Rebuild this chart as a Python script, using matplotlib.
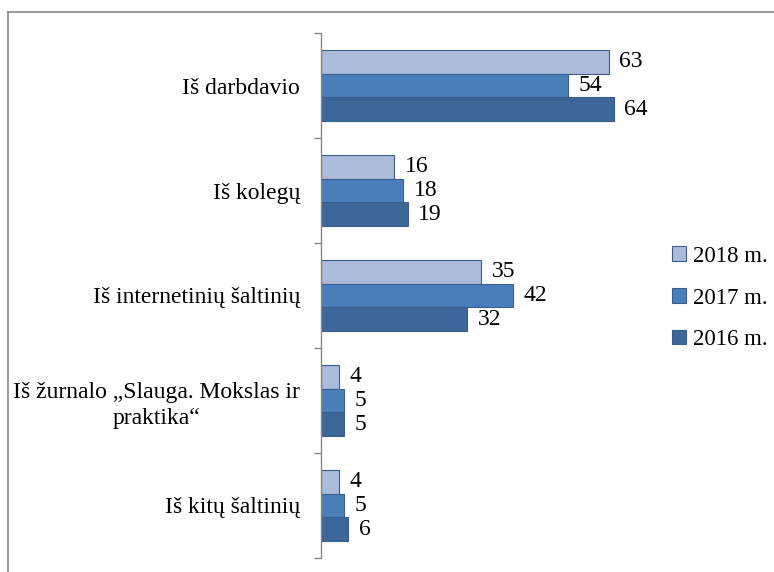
import numpy as np
import matplotlib.pyplot as plt
from matplotlib.lines import Line2D

plt.rcParams["font.family"] = ["Liberation Serif", "DejaVu Serif"]

categories = [
    "Iš darbdavio",
    "Iš kolegų",
    "Iš internetinių šaltinių",
    "Iš žurnalo „Slauga. Mokslas ir\npraktika“",
    "Iš kitų šaltinių",
]
years = ["2018 m.", "2017 m.", "2016 m."]
values_2018 = [63, 16, 35, 4, 4]
values_2017 = [54, 18, 42, 5, 5]
values_2016 = [64, 19, 32, 5, 6]

colors = ["#AABAD8", "#4A7EBB", "#3D6699"]
edge = "#3A5F8E"

fig = plt.figure(figsize=(7.74, 5.72), dpi=100)
ax = fig.add_axes([321 / 774, 1 - 558 / 572, 320 / 774, 525 / 572])

# рамка області діаграми (видно лише верх і ліво)
fig.add_artist(Line2D([8 / 774, 1], [1 - 12 / 572] * 2, color="#878787", lw=1.2))
fig.add_artist(Line2D([8 / 774] * 2, [0, 1 - 12 / 572], color="#878787", lw=1.2))

y = np.arange(len(categories))
h = 0.225
series = [values_2018, values_2017, values_2016]
for i, (vals, lab, col) in enumerate(zip(series, years, colors)):
    pos = y + (i - 1) * h
    ax.barh(pos, vals, height=h, color=col, edgecolor=edge, linewidth=0.8, label=lab)
    for p, v in zip(pos, vals):
        ax.annotate(str(v), (v, p), xytext=(7.5, 0), textcoords="offset points",
                    ha="left", va="center", fontsize=17)

ax.set_xlim(0, 70)
ax.set_ylim(len(categories) - 0.5, -0.5)
ax.set_xticks([])
ax.set_yticks(np.arange(len(categories) + 1) - 0.5)
ax.set_yticklabels([])
ax.tick_params(axis="y", which="major", length=5, color="#878787", width=1)
ax.set_yticks(y, minor=True)
ax.set_yticklabels(categories, minor=True, fontsize=17, multialignment="center",
                   linespacing=1.3)
ax.tick_params(axis="y", which="minor", length=0, pad=15)
for s in ["top", "right", "bottom"]:
    ax.spines[s].set_visible(False)
ax.spines["left"].set_color("#878787")
ax.spines["left"].set_linewidth(1)

fig.legend(loc="center left", bbox_to_anchor=(672 / 774, 1 - 298 / 572),
           frameon=False, fontsize=16.5, handlelength=0.62, handleheight=0.62,
           handletextpad=0.3, labelspacing=0.9, borderpad=0, borderaxespad=0)

fig.savefig("out.png", dpi=100)
